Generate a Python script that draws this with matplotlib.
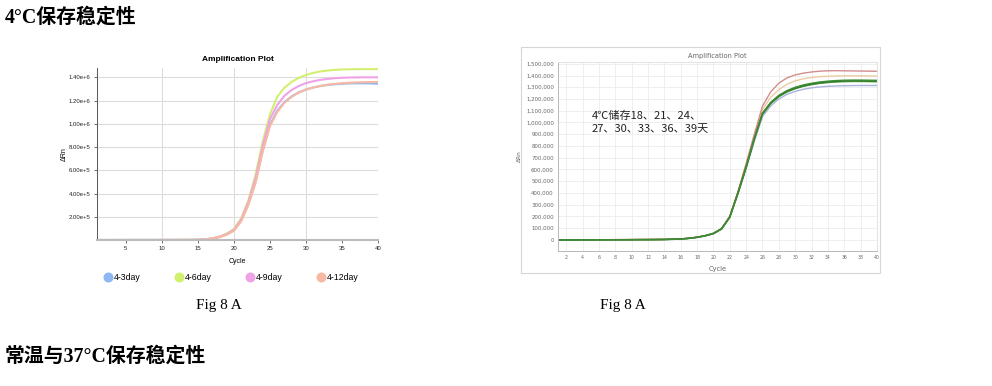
import matplotlib
matplotlib.use('Agg')
import matplotlib.pyplot as plt
from matplotlib.lines import Line2D
from matplotlib.patches import Rectangle
import matplotlib.ticker as mticker

# ---- data: left plot (4°C, 3/6/9/12 days) ----
cycles = list(range(1, 41))
left_labels = ['4-3day', '4-6day', '4-9day', '4-12day']
left_colors = ['#8db8f2', '#d2f070', '#f0a2e6', '#f8b9a2']

d3 = [0, 0, 100, 200, 200, 300, 300, 400, 400, 500, 600, 700, 900, 1200, 2000,
      5000, 12000, 26000, 48000, 83000, 165000, 310000, 500000, 770000, 990000,
      1110000, 1185000, 1235000, 1270000, 1295000, 1312000, 1325000, 1334000,
      1340000, 1344000, 1347000, 1348000, 1348000, 1347000, 1345000]
d6 = [0, 0, 100, 200, 200, 300, 300, 400, 500, 600, 700, 800, 1000, 1400, 2400,
      6000, 14000, 30000, 55000, 95000, 185000, 340000, 560000, 850000, 1080000,
      1230000, 1310000, 1360000, 1395000, 1420000, 1438000, 1450000, 1458000,
      1464000, 1467000, 1469000, 1470000, 1470000, 1470000, 1470000]
d9 = [0, 0, 100, 200, 200, 300, 300, 400, 400, 500, 600, 700, 900, 1300, 2200,
      5500, 13000, 28000, 51000, 88000, 175000, 325000, 530000, 810000, 1040000,
      1160000, 1240000, 1290000, 1325000, 1350000, 1366000, 1378000, 1386000,
      1392000, 1396000, 1398000, 1399000, 1400000, 1400000, 1400000]
d12 = [0, 0, 100, 200, 200, 300, 300, 400, 400, 500, 600, 700, 800, 1100, 1800,
       4500, 11000, 24000, 45000, 80000, 160000, 300000, 490000, 760000, 980000,
       1100000, 1180000, 1232000, 1268000, 1294000, 1312000, 1326000, 1336000,
       1343000, 1349000, 1353000, 1356000, 1358000, 1359000, 1360000]
left_series = [d3, d6, d9, d12]
left_yticks = [200000, 400000, 600000, 800000, 1000000, 1200000, 1400000]
left_xticks = [5, 10, 15, 20, 25, 30, 35, 40]

# ---- data: right plot (4℃ stored 18..39 days) ----
r18 = [0, 0, 1000, 1000, 1000, 2000, 2000, 2000, 3000, 3000, 3000, 3000, 4000,
       4000, 6000, 9000, 14000, 23000, 36000, 56000, 96000, 200000, 410000,
       650000, 900000, 1140000, 1260000, 1335000, 1380000, 1405000, 1420000,
       1430000, 1437000, 1440000, 1441000, 1440000, 1439000, 1438000, 1437000, 1436000]
r21 = [0, 1000, 1000, 1000, 2000, 2000, 2000, 2000, 3000, 3000, 3000, 4000, 4000,
       5000, 6000, 9000, 14000, 23000, 36000, 55000, 95000, 198000, 405000,
       635000, 880000, 1110000, 1215000, 1280000, 1325000, 1355000, 1372000,
       1383000, 1390000, 1394000, 1396000, 1397000, 1397000, 1397000, 1396000, 1395000]
r24 = [0, 0, 0, 1000, 1000, 1000, 2000, 2000, 2000, 2000, 3000, 3000, 3000,
       4000, 6000, 9000, 14000, 23000, 36000, 55000, 95000, 195000, 400000,
       620000, 860000, 1075000, 1165000, 1225000, 1265000, 1292000, 1312000,
       1327000, 1338000, 1345000, 1350000, 1353000, 1354000, 1354000, 1353000, 1352000]
r27 = [0, 0, 1000, 1000, 1000, 1000, 2000, 2000, 2000, 3000, 3000, 3000, 4000,
       4000, 5000, 8000, 13000, 22000, 35000, 54000, 93000, 192000, 395000,
       615000, 855000, 1070000, 1160000, 1220000, 1260000, 1288000, 1308000,
       1322000, 1333000, 1340000, 1345000, 1348000, 1349000, 1349000, 1348000, 1347000]
r30 = [0, 0, 0, 1000, 1000, 2000, 2000, 2000, 2000, 3000, 3000, 3000, 4000,
       4000, 6000, 9000, 14000, 23000, 37000, 56000, 96000, 197000, 402000,
       625000, 865000, 1080000, 1172000, 1232000, 1272000, 1300000, 1320000,
       1334000, 1345000, 1352000, 1357000, 1360000, 1361000, 1361000, 1360000, 1359000]
r33 = [0, 0, 1000, 1000, 2000, 2000, 2000, 3000, 3000, 3000, 3000, 4000, 4000,
       5000, 6000, 9000, 15000, 24000, 37000, 57000, 97000, 200000, 408000,
       630000, 870000, 1078000, 1165000, 1225000, 1266000, 1294000, 1314000,
       1329000, 1340000, 1347000, 1352000, 1355000, 1356000, 1356000, 1355000, 1354000]
r36 = [0, 0, 0, 1000, 1000, 1000, 1000, 2000, 2000, 2000, 3000, 3000, 3000,
       4000, 5000, 8000, 13000, 22000, 35000, 54000, 94000, 194000, 398000,
       618000, 858000, 1072000, 1162000, 1222000, 1262000, 1290000, 1310000,
       1325000, 1336000, 1343000, 1348000, 1351000, 1352000, 1352000, 1351000, 1350000]
r39 = [0, 0, 0, 1000, 1000, 1000, 2000, 2000, 2000, 2000, 3000, 3000, 3000,
       4000, 5000, 8000, 13000, 21000, 34000, 52000, 91000, 190000, 390000,
       605000, 840000, 1050000, 1140000, 1200000, 1240000, 1265000, 1283000,
       1295000, 1303000, 1308000, 1311000, 1313000, 1314000, 1315000, 1315000, 1315000]
right_series = [r39, r21, r18, r33, r36, r27, r24, r30]
right_colors = ['#aab2de', '#ebcaa2', '#d48c8c', '#db6a36', '#7fb96e',
                '#4d9c3f', '#2f7a2f', '#3e8c36']
right_yticks = list(range(0, 1600000, 100000))
right_xticks = list(range(2, 42, 2))

fig = plt.figure(figsize=(9.92, 3.86), dpi=100)
W, H = 992.0, 386.0
heading_font = ['Liberation Serif', 'Noto Sans CJK SC']

# headings / captions
fig.text(5 / W, 1 - 18 / H, '4°C保存稳定性', fontsize=14.3, fontweight='bold',
         family=heading_font, ha='left', va='center')
fig.text(5 / W, 1 - 357 / H, '常温与37°C保存稳定性', fontsize=14.3, fontweight='bold',
         family=heading_font, ha='left', va='center')
fig.text(219 / W, 1 - 306 / H, 'Fig 8 A', fontsize=11, family='Liberation Serif',
         ha='center', va='center')
fig.text(623 / W, 1 - 306 / H, 'Fig 8 A', fontsize=11, family='Liberation Serif',
         ha='center', va='center')

# ---------------- left plot ----------------
ax1 = fig.add_axes([97 / W, 1 - 240 / H, 281 / W, 172 / H])
for y, c in zip(left_series, left_colors):
    ax1.plot(cycles, y, color=c, lw=1.5, solid_capstyle='round')
ax1.set_xlim(1, 40)
ax1.set_ylim(0, 1480000)
ax1.set_yticks(left_yticks)
ax1.set_yticklabels(['%.2fe+%d' % (v / 10 ** len(str(v // 10)), len(str(v // 10)))
                     for v in left_yticks])
ax1.set_xticks(left_xticks)
ax1.yaxis.grid(True, color='#dcdcdc', lw=0.8)
for gx in [10, 20, 30, 40]:
    ax1.axvline(gx, color='#dcdcdc', lw=0.8, zorder=0)
ax1.set_axisbelow(True)
for s in ['top', 'right']:
    ax1.spines[s].set_visible(False)
ax1.spines['left'].set_color('#555555')
ax1.spines['left'].set_linewidth(0.7)
ax1.spines['bottom'].set_color('#bbbbbb')
ax1.spines['bottom'].set_linewidth(1.5)
ax1.tick_params(axis='both', labelsize=4.3, length=2.5, width=0.6, color='#555555',
                labelcolor='#222222', pad=2)
for lab in ax1.get_xticklabels() + ax1.get_yticklabels():
    lab.set_family('Liberation Sans')
ax1.set_title('Amplification Plot', fontsize=6, fontweight='bold',
              family='Liberation Sans', pad=5)
ax1.set_xlabel('Cycle', fontsize=5, family='Liberation Sans', labelpad=5)
ax1.set_ylabel('ΔRn', fontsize=5, family='Liberation Sans', labelpad=1)
handles = [Line2D([], [], ls='none', marker='o', markersize=6.2, color=c)
           for c in left_colors]
fig.legend(handles, left_labels, loc='center', ncol=4, frameon=False,
           bbox_to_anchor=(231 / W, 1 - 278 / H), prop={'family': 'Liberation Sans', 'size': 6.3},
           handletextpad=0.25, columnspacing=3.8, handlelength=1.0)

# ---------------- right plot ----------------
fig.patches.append(Rectangle((521 / W, 1 - 273 / H), 359 / W, 226 / H,
                             transform=fig.transFigure, fill=False,
                             edgecolor='#d6d6d6', lw=0.8))
ax2 = fig.add_axes([558 / W, 1 - 251 / H, 319 / W, 189 / H])
for y, c in zip(right_series, right_colors):
    ax2.plot(cycles, y, color=c, lw=1.0)
ax2.set_xlim(1, 40)
ax2.set_ylim(-94000, 1515000)
ax2.set_yticks(right_yticks)
ax2.yaxis.set_major_formatter(mticker.FuncFormatter(lambda v, p: '{:,.0f}'.format(v)))
ax2.set_xticks(right_xticks)
ax2.grid(True, color='#ececec', lw=0.6)
ax2.set_axisbelow(True)
for s in ['top', 'right']:
    ax2.spines[s].set_color('#e4e4e4')
for s in ['left', 'bottom']:
    ax2.spines[s].set_color('#b8b8b8')
    ax2.spines[s].set_linewidth(0.7)
ax2.tick_params(axis='y', labelsize=3.9, length=0, labelcolor='#666666', pad=3)
ax2.tick_params(axis='x', labelsize=3.3, length=0, labelcolor='#666666', pad=3)
ax2.set_title('Amplification Plot', fontsize=4.8, color='#666666', pad=3)
ax2.set_xlabel('Cycle', fontsize=4.8, color='#666666', labelpad=4)
ax2.set_ylabel('ΔRn', fontsize=4.2, color='#666666', labelpad=3)
ax2.text(5.15, 1000000, '4℃储存18、21、24、\n27、30、33、36、39天', fontsize=8,
         family=['Noto Sans CJK SC', 'DejaVu Sans'], ha='left', va='center',
         linespacing=1.45, color='#222222')

fig.savefig('out.png', dpi=100)
